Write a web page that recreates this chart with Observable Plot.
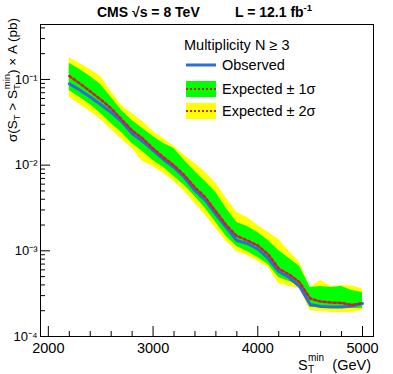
<!DOCTYPE html>
<html><head><meta charset="utf-8">
<script src="https://cdn.jsdelivr.net/npm/d3@7"></script>
<script src="https://cdn.jsdelivr.net/npm/@observablehq/plot@0.6"></script>
<style>
body{margin:0;background:#fff;}
svg{display:block;font-family:"Liberation Sans",Arial,Helvetica,sans-serif;}
</style>
</head><body><div id="chart"></div>
<script>
const stMin = [2200,2300,2400,2500,2600,2700,2800,2900,3000,3100,3200,3300,3400,3500,3600,3700,3800,3900,4000,4100,4200,4300,4400,4500,4600,4700,4800,4900,5000];
const observed = [0.0891,0.0754,0.0625,0.0511,0.0412,0.0323,0.0234,0.0189,0.01483,0.01165,0.00939,0.00718,0.00506,0.00387,0.00266,0.00187,0.00132,0.001218,0.00105,0.000814,0.000574,0.000488,0.000383,0.000236,0.000224,0.000221,0.000221,0.000227,0.000243];
const expected = [0.1098,0.0898,0.0724,0.0584,0.0459,0.0341,0.0254,0.0205,0.01565,0.01229,0.00991,0.00757,0.00548,0.00419,0.00288,0.00198,0.00149,0.00132,0.001154,0.000906,0.000622,0.000529,0.000427,0.000278,0.000256,0.000249,0.000246,0.000233,0.000246];
const onePlus = [0.155,0.1308,0.1084,0.0874,0.0616,0.0435,0.0332,0.0268,0.0216,0.0179,0.01565,0.01133,0.00843,0.00645,0.00480,0.00312,0.00214,0.00192,0.00164,0.00132,0.00101,0.000814,0.000657,0.000373,0.000383,0.000373,0.000383,0.000344,0.000326];
const oneMinus = [0.0744,0.0616,0.0511,0.0401,0.0306,0.0241,0.0179,0.01444,0.01133,0.00939,0.00737,0.00579,0.00431,0.00312,0.00214,0.00147,0.001123,0.000982,0.000836,0.000693,0.000488,0.000439,0.000394,0.000218,0.000218,0.000215,0.000212,0.000212,0.000212];
const twoPlus = [0.179,0.1537,0.1308,0.1084,0.0724,0.0497,0.0401,0.0323,0.0247,0.0205,0.0165,0.01297,0.01046,0.00821,0.00611,0.00408,0.00280,0.00245,0.00198,0.00164,0.001356,0.000982,0.000731,0.000373,0.000451,0.000383,0.000394,0.000389,0.000358];
const twoMinus = [0.0621,0.0511,0.0423,0.0341,0.0261,0.0199,0.01565,0.01103,0.00965,0.00799,0.00645,0.00493,0.00357,0.00259,0.00182,0.001285,0.000982,0.000882,0.000751,0.000639,0.000416,0.000383,0.000363,0.000201,0.000196,0.000191,0.000191,0.000191,0.000201];

const xMajorTicks = [2000,3000,4000,5000];
const xMinorTicks = [2200,2400,2600,2800,3200,3400,3600,3800,4200,4400,4600,4800];
const yMajorTicks = [1e-4,1e-3,1e-2,1e-1];
const yMinorTicks = [2e-4,3e-4,4e-4,5e-4,6e-4,7e-4,8e-4,9e-4,2e-3,3e-3,4e-3,5e-3,6e-3,7e-3,8e-3,9e-3,2e-2,3e-2,4e-2,5e-2,6e-2,7e-2,8e-2,9e-2,2e-1,3e-1,4e-1];

const rows = stMin.map((x,i)=>({x, obs:observed[i], exp:expected[i], g1:oneMinus[i], g2:onePlus[i], y1:twoMinus[i], y2:twoPlus[i]}));

const W=393, H=374, mL=40, mR=20, mT=24, mB=38;
const fh = H-mT-mB, fw = W-mL-mR;
const sup = {"-":"\u207B","0":"\u2070","1":"\u00B9","2":"\u00B2","3":"\u00B3","4":"\u2074","5":"\u2075","6":"\u2076","7":"\u2077","8":"\u2078","9":"\u2079"};
const fmtPow = d => "10" + String(Math.round(Math.log10(d))).split("").map(c=>sup[c]).join("");
const RED = "#d41a3c", BLUE = "#2b6fd6";

const plot = Plot.plot({
  width: W, height: H,
  marginLeft: mL, marginRight: mR, marginTop: mT, marginBottom: mB,
  style: {fontFamily: '"Liberation Sans",Arial,sans-serif', fontSize: "14px", background: "white", color: "black"},
  x: {domain: [1925, 5105]},
  y: {type: "log", domain: [1e-4, 0.438]},
  marks: [
    Plot.areaY(rows, {x: "x", y1: "y1", y2: "y2", fill: "#ffff00"}),
    Plot.areaY(rows, {x: "x", y1: "g1", y2: "g2", fill: "#00ff00"}),
    Plot.lineY(rows, {x: "x", y: "obs", stroke: BLUE, strokeWidth: 3}),
    Plot.lineY(rows, {x: "x", y: "exp", stroke: RED, strokeWidth: 2.5, strokeDasharray: "2.5,2.5"}),
    Plot.tickX(xMajorTicks, {x: d => d, insetTop: fh - 10, stroke: "black"}),
    Plot.tickX(xMinorTicks, {x: d => d, insetTop: fh - 5, stroke: "black"}),
    Plot.tickY(yMajorTicks, {y: d => d, insetRight: fw - 10, stroke: "black"}),
    Plot.tickY(yMinorTicks, {y: d => d, insetRight: fw - 5, stroke: "black"}),
    Plot.axisX({ticks: xMajorTicks, tickSize: 0, tickPadding: 6, fontSize: 14.5, label: null, tickFormat: d => String(d)}),
    Plot.axisY({ticks: yMajorTicks, tickSize: 0, tickPadding: 3, fontSize: 13, label: null, tickFormat: fmtPow}),
    Plot.frame({stroke: "black"})
  ]
});
document.getElementById("chart").appendChild(plot);

const svg = d3.select(plot);
const ff = '"Liberation Sans",Arial,sans-serif';
const extra = svg.append("g").attr("font-family", ff).attr("fill", "black").attr("text-anchor", "start");
// Title
const t1 = extra.append("text").attr("x", 97).attr("y", 17).attr("font-size", 14).attr("font-weight", "bold");
t1.text("CMS \u221As = 8 TeV");
const t2 = extra.append("text").attr("x", 235).attr("y", 17).attr("font-size", 14).attr("font-weight", "bold");
t2.append("tspan").text("L = 12.1 fb");
t2.append("tspan").attr("font-size", 9.5).attr("dy", -6).text("-1");

// X label
extra.append("text").attr("x", 298).attr("y", 370).attr("font-size", 14.5).text("S");
extra.append("text").attr("x", 308).attr("y", 373).attr("font-size", 10).text("T");
extra.append("text").attr("x", 308).attr("y", 361).attr("font-size", 10).text("min");
extra.append("text").attr("x", 371).attr("y", 370).attr("font-size", 14.5).attr("text-anchor","end").text("(GeV)");

// Y label
const yl = extra.append("text").attr("transform", "translate(17,18) rotate(-90)").attr("text-anchor","end").attr("font-size", 13.5);
yl.append("tspan").text("\u03C3(S");
yl.append("tspan").attr("font-size", 9.5).attr("dy", 3).text("T");
yl.append("tspan").attr("dy", -3).text(" > S");
yl.append("tspan").attr("font-size", 9.5).attr("dy", 3).text("T");
yl.append("tspan").attr("font-size", 9.5).attr("dx", -5).attr("dy", -10).text("min");
yl.append("tspan").attr("dy", 7).text(") \u00D7 A (pb)");

// Legend
const lg = extra.append("g").attr("font-size", 14.5);
lg.append("text").attr("x", 184).attr("y", 50).text("Multiplicity N \u2265 3");
lg.append("line").attr("x1",186).attr("x2",216).attr("y1",65).attr("y2",65).attr("stroke",BLUE).attr("stroke-width",3);
lg.append("text").attr("x", 222).attr("y", 70).text("Observed");
lg.append("rect").attr("x",186).attr("y",81).attr("width",30).attr("height",16).attr("fill","#00ff00");
lg.append("line").attr("x1",186).attr("x2",216).attr("y1",89).attr("y2",89).attr("stroke",RED).attr("stroke-width",2).attr("stroke-dasharray","2,2");
lg.append("text").attr("x", 222).attr("y", 94).text("Expected \u00B1 1\u03C3");
lg.append("rect").attr("x",186).attr("y",103).attr("width",30).attr("height",16).attr("fill","#ffff00");
lg.append("line").attr("x1",186).attr("x2",216).attr("y1",111).attr("y2",111).attr("stroke",RED).attr("stroke-width",2).attr("stroke-dasharray","2,2");
lg.append("text").attr("x", 222).attr("y", 116).text("Expected \u00B1 2\u03C3");
</script>
</body></html>
